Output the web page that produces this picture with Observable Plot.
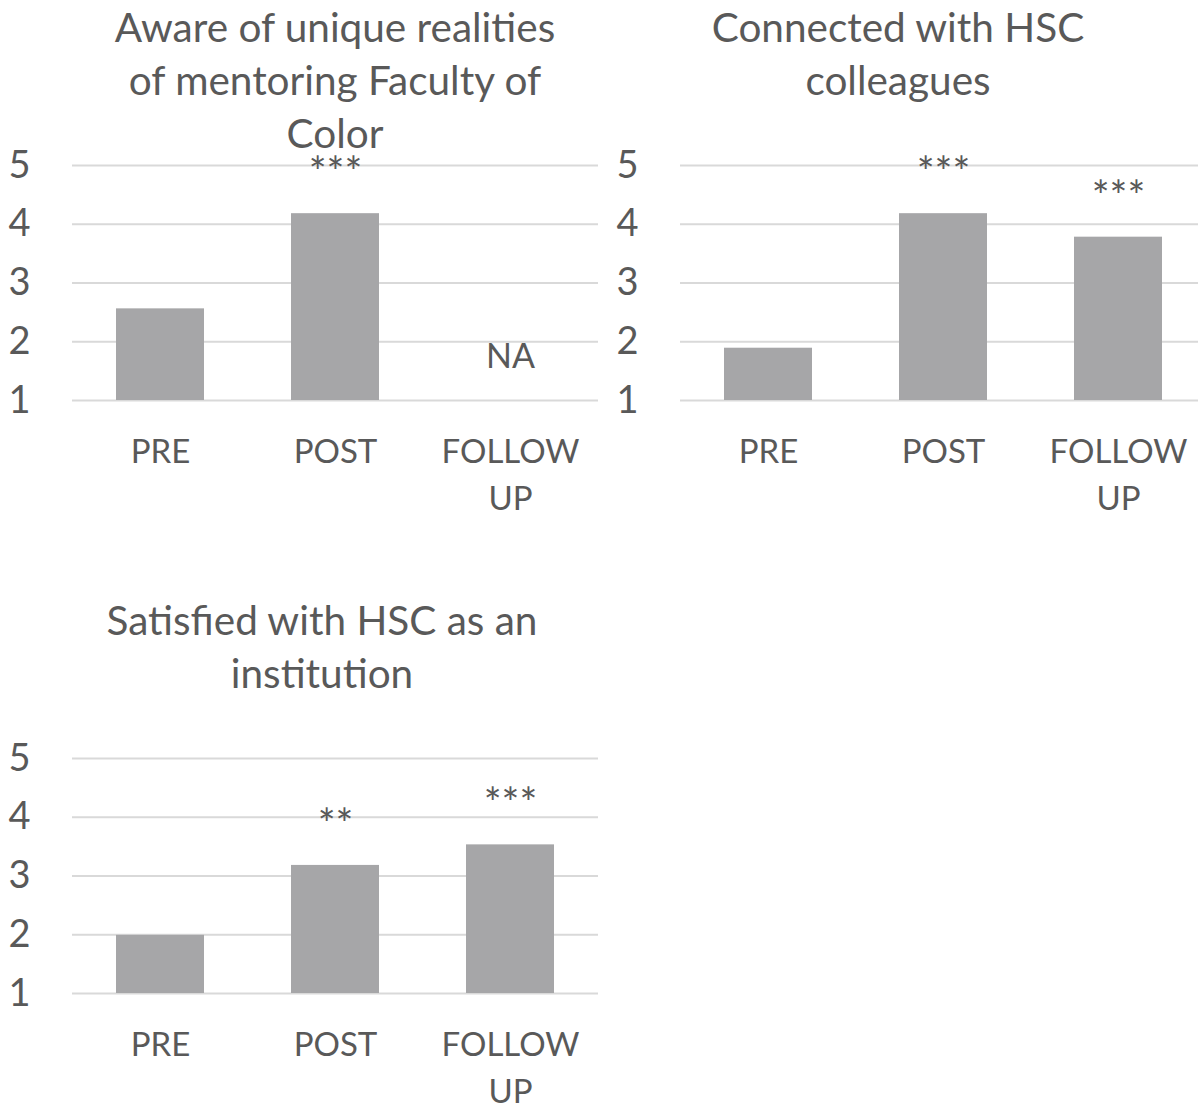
<!DOCTYPE html>
<html>
<head>
<meta charset="utf-8">
<script src="https://cdn.jsdelivr.net/npm/d3@7"></script>
<script src="https://cdn.jsdelivr.net/npm/@observablehq/plot@0.6"></script>
<style>
  html, body { margin: 0; padding: 0; background: #fff; overflow: hidden; }
  #root { position: relative; width: 1198px; height: 1109px; overflow: hidden; background: #fff; }
  .title { position: absolute; width: 600px; text-align: center; color: #595959;
           font-family: Lato, "Open Sans", sans-serif; font-size: 40.5px; line-height: 53px; white-space: nowrap; }
  .panel { position: absolute; }
</style>
</head>
<body>
<div id="root"></div>
<script>
// ---- data ----
const categories = ["PRE", "POST", "FOLLOW UP"];
const categoryLabels = ["PRE", "POST", "FOLLOW\nUP"];
const yTicks = [1, 2, 3, 4, 5];

const titleAware = ["Aware of unique realities", "of mentoring Faculty of", "Color"];
const titleConnected = ["Connected with HSC", "colleagues"];
const titleSatisfied = ["Satisfied with HSC as an", "institution"];

const awareValues = [2.56, 4.18, null];
const connectedValues = [1.89, 4.18, 3.78];
const satisfiedValues = [1.99, 3.18, 3.53];

const awareStars = ["", "***", ""];
const connectedStars = ["", "***", "***"];
const satisfiedStars = ["", "**", "***"];

const awareMissing = ["", "", "NA"];
const connectedMissing = ["", "", ""];
const satisfiedMissing = ["", "", ""];

// ---- drawing ----
const FONT = 'Lato, "Open Sans", sans-serif';
const TEXT = "#595959";
const root = document.getElementById("root");

function addTitle(lines, cx, top) {
  const d = document.createElement("div");
  d.className = "title";
  d.style.left = (cx - 300) + "px";
  d.style.top = top + "px";
  d.innerHTML = lines.join("<br>");
  root.appendChild(d);
}

function panel(values, stars, missing, opts) {
  const data = categories.map((c, i) => ({
    cat: c, label: categoryLabels[i], value: values[i], star: stars[i], missing: missing[i]
  }));
  const chart = Plot.plot({
    width: opts.width,
    height: 376,
    marginTop: 25,
    marginBottom: 116,
    marginLeft: opts.marginLeft,
    marginRight: opts.marginRight,
    x: { domain: categories, paddingInner: 0.5, paddingOuter: 0.25, axis: null },
    y: { domain: [1, 5], axis: null },
    style: { fontFamily: FONT, color: TEXT, background: "transparent", overflow: "visible" },
    marks: [
      Plot.gridY(yTicks, { stroke: "#d9d9d9", strokeOpacity: 1, strokeWidth: 2 }),
      Plot.axisY(yTicks, { tickSize: 0, tickPadding: 42, fontSize: 38, label: null, textAnchor: "end", tickFormat: "d", fill: TEXT }),
      Plot.barY(data.filter(d => d.value != null), { x: "cat", y1: 1, y2: "value", fill: "#a6a6a8" }),
      Plot.text(data, { x: "cat", y: 1, text: "label", lineAnchor: "top", dy: 29, fontSize: 33, lineHeight: 1.42, fill: TEXT }),
      Plot.text(data.filter(d => d.star && d.value != null), { x: "cat", y: "value", text: "star", dy: -40, fontSize: 42, fill: TEXT }),
      Plot.text(data.filter(d => d.missing), { x: "cat", y: 1, text: "missing", dy: -43, fontSize: 34, fill: TEXT })
    ]
  });
  chart.classList.add("panel");
  chart.style.left = opts.left + "px";
  chart.style.top = opts.top + "px";
  root.appendChild(chart);
}

addTitle(titleAware, 335, 0);
addTitle(titleConnected, 898, 0);
addTitle(titleSatisfied, 322, 593);

panel(awareValues, awareStars, awareMissing, { left: 0, top: 140, width: 600, marginLeft: 72, marginRight: 2 });
panel(connectedValues, connectedStars, connectedMissing, { left: 600, top: 140, width: 605, marginLeft: 80, marginRight: 0 });
panel(satisfiedValues, satisfiedStars, satisfiedMissing, { left: 0, top: 733, width: 600, marginLeft: 72, marginRight: 2 });
</script>
</body>
</html>
